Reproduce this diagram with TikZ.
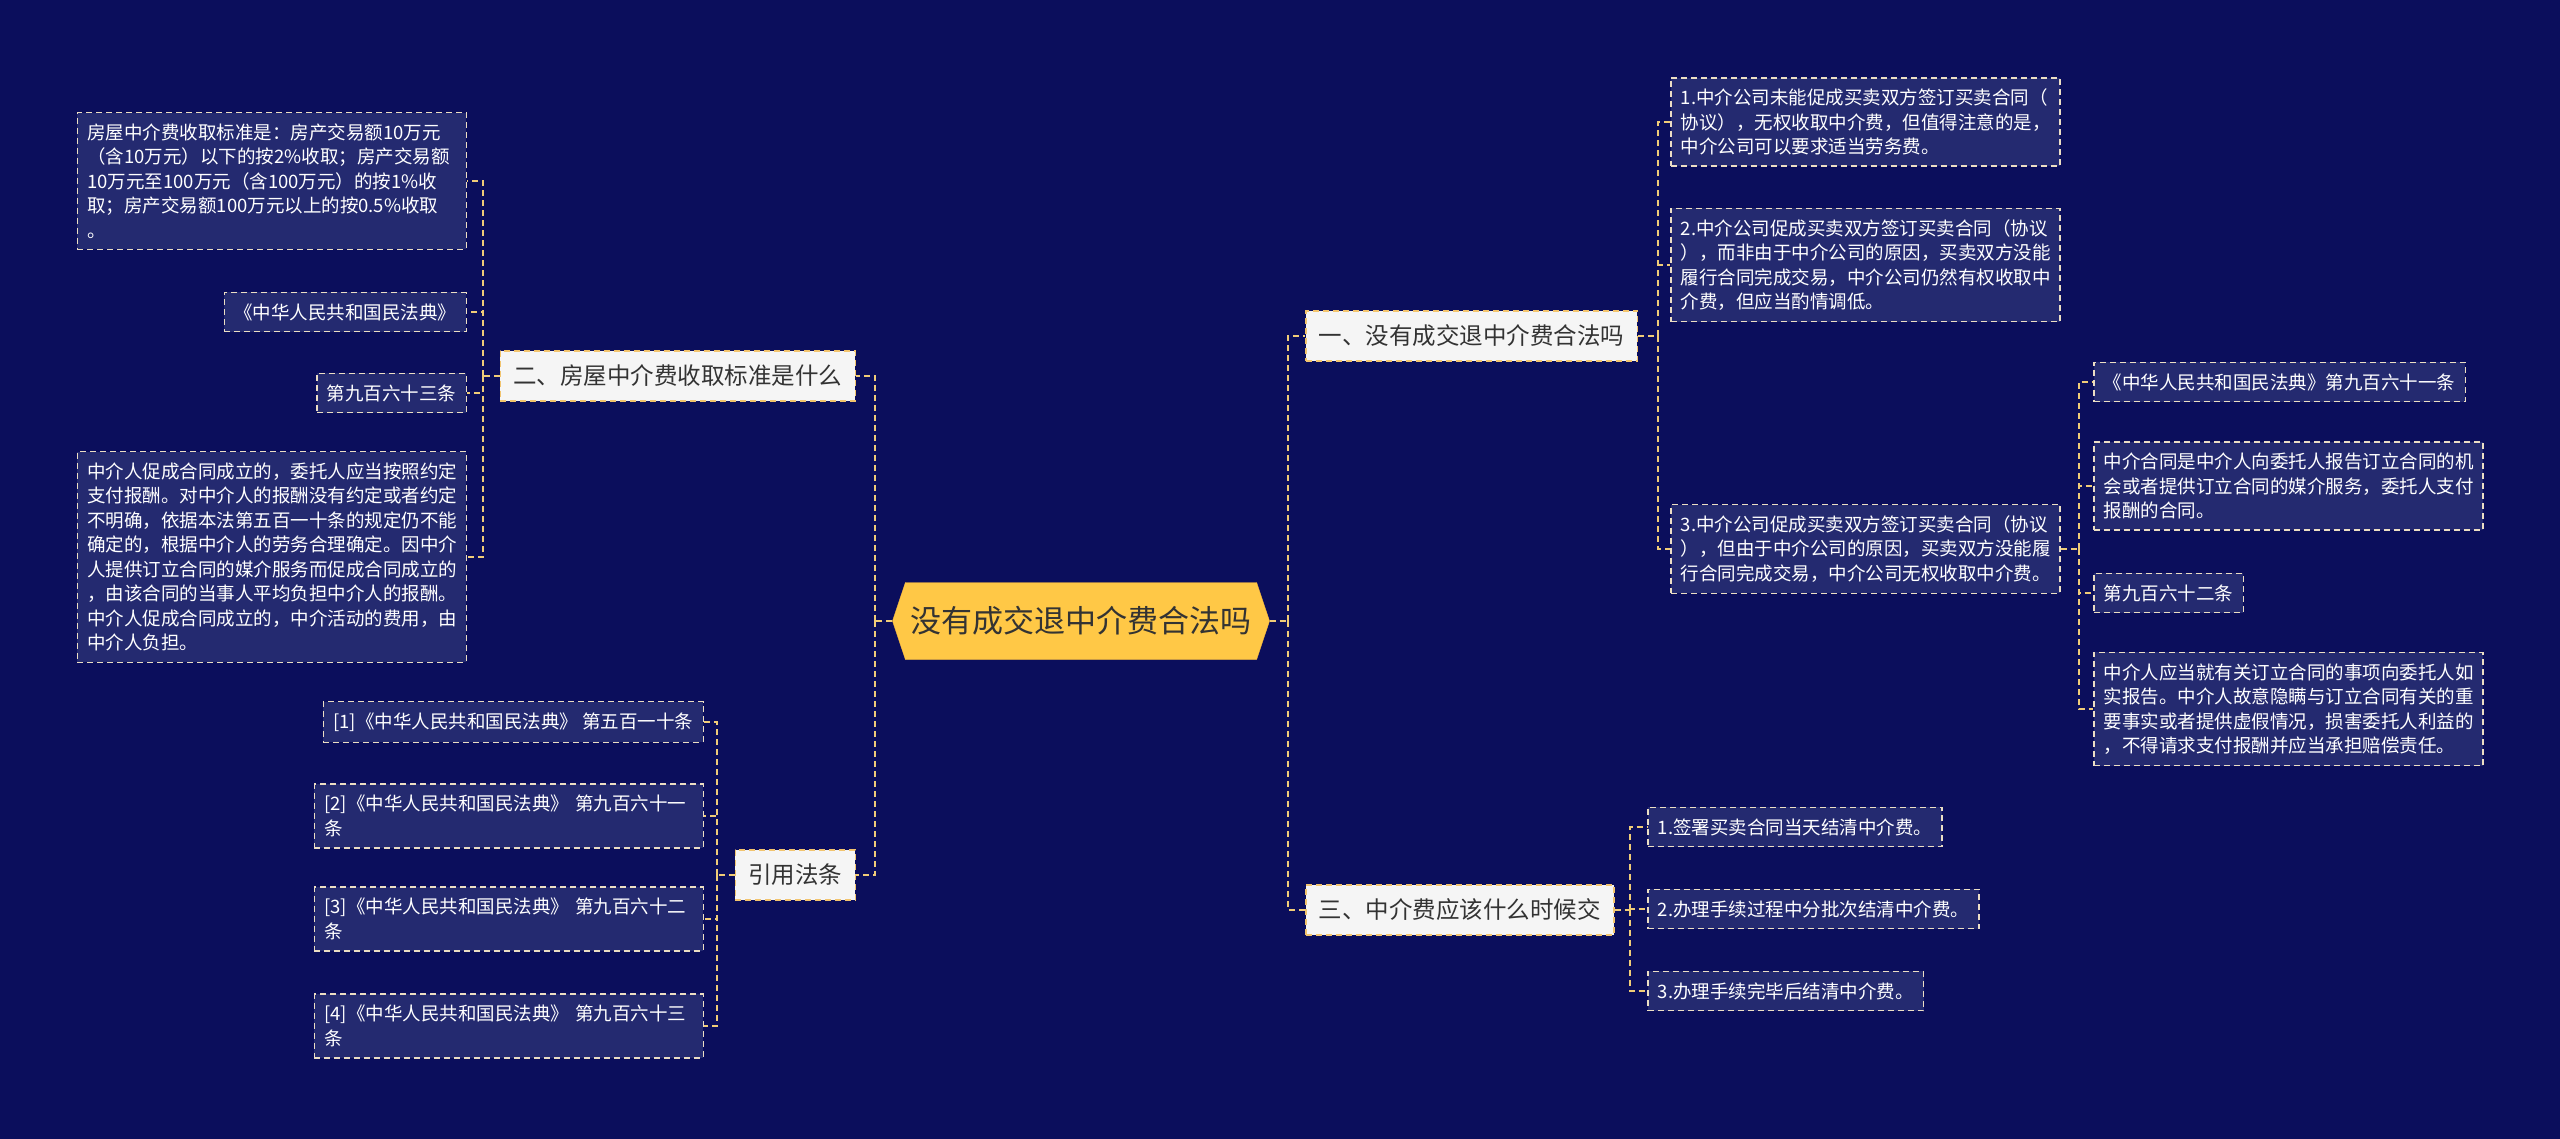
\documentclass[tikz,border=0pt]{standalone}
\usepackage{fontspec}
\newfontfamily\cjk{Noto Sans CJK SC}
\usetikzlibrary{shapes.symbols}

\definecolor{bgnavy}{RGB}{11,14,92}
\definecolor{leaffill}{RGB}{36,42,112}
\definecolor{leafline}{RGB}{236,222,196}
\definecolor{topicfill}{RGB}{245,245,245}
\definecolor{topicline}{RGB}{242,196,110}
\definecolor{linkcol}{RGB}{240,204,120}
\definecolor{rootfill}{RGB}{255,200,70}
\definecolor{roottext}{RGB}{51,51,51}

\begin{document}
\begin{tikzpicture}[x=1pt, y=-1pt,
    leaf/.style={draw=leafline, fill=leaffill, dash pattern=on 6pt off 4pt, line width=1.5pt,
      text=white, font=\cjk\fontsize{18.5}{24.5}\selectfont, align=left,
      inner xsep=10pt, inner ysep=11pt},
    wide/.style={leaf, text width=369pt},
    topic/.style={draw=topicline, fill=topicfill, dash pattern=on 6pt off 4pt, line width=1.5pt,
      text=roottext, font=\cjk\fontsize{23.5}{28}\selectfont,
      inner xsep=13pt, minimum height=50pt},
    link/.style={draw=linkcol, dash pattern=on 6pt off 4pt, line width=2pt}]

    % Background
    \fill[bgnavy] (0,0) rectangle (2560,1139);

    % Root
    \node[signal, signal to=west and east, signal pointer angle=143, fill=rootfill, draw=rootfill!85!orange,
      text=roottext, font=\cjk\fontsize{31}{36}\selectfont, minimum width=377pt, minimum height=77pt] (root) at (1081,621) {没有成交退中介费合法吗};

    % Topics
    \node[topic, anchor=east] (q2) at (856,376) {二、房屋中介费收取标准是什么};
    \node[topic, anchor=east] (law) at (856,875) {引用法条};
    \node[topic, anchor=west] (q1) at (1305,336) {一、没有成交退中介费合法吗};
    \node[topic, anchor=west] (q3) at (1305,910) {三、中介费应该什么时候交};

    % Leaves of q2
    \node[wide, anchor=east] (l1) at (467,181) {房屋中介费收取标准是：房产交易额10万元\\（含10万元）以下的按2\%收取；房产交易额\\10万元至100万元（含100万元）的按1\%收\\取；房产交易额100万元以上的按0.5\%收取\\。};
    \node[leaf, anchor=east] (l2) at (467,312) {《中华人民共和国民法典》};
    \node[leaf, anchor=east] (l3) at (467,393) {第九百六十三条};
    \node[wide, anchor=east] (l4) at (467,557) {中介人促成合同成立的，委托人应当按照约定\\支付报酬。对中介人的报酬没有约定或者约定\\不明确，依据本法第五百一十条的规定仍不能\\确定的，根据中介人的劳务合理确定。因中介\\人提供订立合同的媒介服务而促成合同成立的\\，由该合同的当事人平均负担中介人的报酬。\\中介人促成合同成立的，中介活动的费用，由\\中介人负担。};

    % Leaves of law
    \node[leaf, anchor=east] (r1) at (704,722) {[1]《中华人民共和国民法典》 第五百一十条};
    \node[wide, anchor=east] (r2) at (704,816) {[2]《中华人民共和国民法典》 第九百六十一\\条};
    \node[wide, anchor=east] (r3) at (704,919) {[3]《中华人民共和国民法典》 第九百六十二\\条};
    \node[wide, anchor=east] (r4) at (704,1026) {[4]《中华人民共和国民法典》 第九百六十三\\条};

    % Leaves of q1
    \node[wide, anchor=west] (a1) at (1670,122) {1.中介公司未能促成买卖双方签订买卖合同（\\协议），无权收取中介费，但值得注意的是，\\中介公司可以要求适当劳务费。};
    \node[wide, anchor=west] (a2) at (1670,265) {2.中介公司促成买卖双方签订买卖合同（协议\\），而非由于中介公司的原因，买卖双方没能\\履行合同完成交易，中介公司仍然有权收取中\\介费，但应当酌情调低。};
    \node[wide, anchor=west] (a3) at (1670,549) {3.中介公司促成买卖双方签订买卖合同（协议\\），但由于中介公司的原因，买卖双方没能履\\行合同完成交易，中介公司无权收取中介费。};

    % Leaves of a3
    \node[leaf, anchor=west] (b1) at (2093,382) {《中华人民共和国民法典》第九百六十一条};
    \node[wide, anchor=west] (b2) at (2093,486) {中介合同是中介人向委托人报告订立合同的机\\会或者提供订立合同的媒介服务，委托人支付\\报酬的合同。};
    \node[leaf, anchor=west] (b3) at (2093,593) {第九百六十二条};
    \node[wide, anchor=west] (b4) at (2093,709) {中介人应当就有关订立合同的事项向委托人如\\实报告。中介人故意隐瞒与订立合同有关的重\\要事实或者提供虚假情况，损害委托人利益的\\，不得请求支付报酬并应当承担赔偿责任。};

    % Leaves of q3
    \node[leaf, anchor=west] (c1) at (1647,827) {1.签署买卖合同当天结清中介费。};
    \node[leaf, anchor=west] (c2) at (1647,909) {2.办理手续过程中分批次结清中介费。};
    \node[leaf, anchor=west] (c3) at (1647,991) {3.办理手续完毕后结清中介费。};

    % Links (left)
    \coordinate (lt) at (875,621);
    \draw[link] (root.west) -- (lt);
    \draw[link] (lt) |- (q2.east);
    \draw[link] (lt) |- (law.east);
    \draw[link] (q2.west) -- ++(-17,0) coordinate (q2t);
    \foreach \n in {l1,l2,l3,l4} \draw[link] (q2t) |- (\n.east);
    \draw[link] (law.west) -- ++(-18,0) coordinate (lawt);
    \foreach \n in {r1,r2,r3,r4} \draw[link] (lawt) |- (\n.east);

    % Links (right)
    \coordinate (rt) at (1288,621);
    \draw[link] (root.east) -- (rt);
    \draw[link] (rt) |- (q1.west);
    \draw[link] (rt) |- (q3.west);
    \draw[link] (q1.east) -- ++(20,0) coordinate (q1t);
    \foreach \n in {a1,a2,a3} \draw[link] (q1t) |- (\n.west);
    \draw[link] (a3.east) -- ++(18,0) coordinate (a3t);
    \foreach \n in {b1,b2,b3,b4} \draw[link] (a3t) |- (\n.west);
    \draw[link] (q3.east) -- ++(15,0) coordinate (q3t);
    \foreach \n in {c1,c2,c3} \draw[link] (q3t) |- (\n.west);
\end{tikzpicture}
\end{document}
